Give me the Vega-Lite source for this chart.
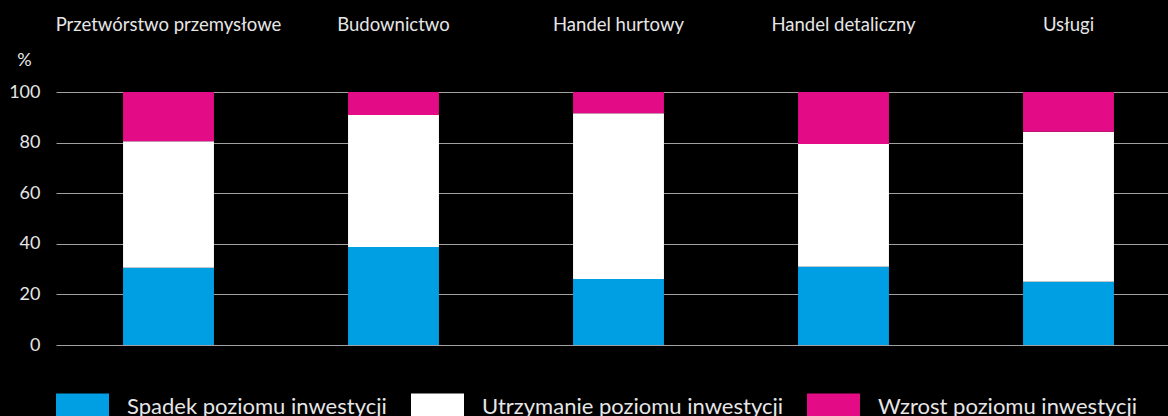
{
  "$schema": "https://vega.github.io/schema/vega-lite/v6.json",
  "background": "black",
  "autosize": "none",
  "padding": {"left": 56, "top": 92, "right": 0, "bottom": 71},
  "width": 1125,
  "height": 253,
  "config": {
    "view": {"stroke": null},
    "font": "Lato"
  },
  "data": {
    "values": [
      {"sektor": "Przetwórstwo przemysłowe", "kategoria": "Spadek poziomu inwestycji", "k": 1, "v": 30.5},
      {"sektor": "Przetwórstwo przemysłowe", "kategoria": "Utrzymanie poziomu inwestycji", "k": 2, "v": 50.0},
      {"sektor": "Przetwórstwo przemysłowe", "kategoria": "Wzrost poziomu inwestycji", "k": 3, "v": 19.5},
      {"sektor": "Budownictwo", "kategoria": "Spadek poziomu inwestycji", "k": 1, "v": 38.7},
      {"sektor": "Budownictwo", "kategoria": "Utrzymanie poziomu inwestycji", "k": 2, "v": 52.2},
      {"sektor": "Budownictwo", "kategoria": "Wzrost poziomu inwestycji", "k": 3, "v": 9.1},
      {"sektor": "Handel hurtowy", "kategoria": "Spadek poziomu inwestycji", "k": 1, "v": 26.1},
      {"sektor": "Handel hurtowy", "kategoria": "Utrzymanie poziomu inwestycji", "k": 2, "v": 65.5},
      {"sektor": "Handel hurtowy", "kategoria": "Wzrost poziomu inwestycji", "k": 3, "v": 8.4},
      {"sektor": "Handel detaliczny", "kategoria": "Spadek poziomu inwestycji", "k": 1, "v": 30.9},
      {"sektor": "Handel detaliczny", "kategoria": "Utrzymanie poziomu inwestycji", "k": 2, "v": 48.5},
      {"sektor": "Handel detaliczny", "kategoria": "Wzrost poziomu inwestycji", "k": 3, "v": 20.6},
      {"sektor": "Usługi", "kategoria": "Spadek poziomu inwestycji", "k": 1, "v": 25.0},
      {"sektor": "Usługi", "kategoria": "Utrzymanie poziomu inwestycji", "k": 2, "v": 59.3},
      {"sektor": "Usługi", "kategoria": "Wzrost poziomu inwestycji", "k": 3, "v": 15.7}
    ]
  },
  "mark": {"type": "bar"},
  "encoding": {
    "x": {
      "field": "sektor",
      "type": "nominal",
      "sort": null,
      "scale": {"paddingInner": 0.596, "paddingOuter": 0.298},
      "axis": {
        "orient": "top",
        "title": null,
        "domain": false,
        "ticks": false,
        "labelAngle": 0,
        "labelPadding": 58,
        "labelFontSize": 18.5,
        "labelLimit": 0,
        "labelColor": "#e6e6e6",
        "labelFont": "Lato"
      }
    },
    "y": {
      "field": "v",
      "type": "quantitative",
      "stack": "zero",
      "scale": {"domain": [0, 100], "nice": false},
      "axis": {
        "values": [0, 20, 40, 60, 80, 100],
        "domain": false,
        "ticks": false,
        "grid": true,
        "gridColor": "#a0a0a0",
        "gridWidth": 1,
        "labelPadding": 16,
        "labelFontSize": 18,
        "labelColor": "#e6e6e6",
        "labelFont": "Lato",
        "title": "%",
        "titleAngle": 0,
        "titleX": -32,
        "titleY": -32,
        "titleAlign": "center",
        "titleBaseline": "middle",
        "titleFontSize": 18,
        "titleFontWeight": "normal",
        "titleColor": "#e6e6e6",
        "titleFont": "Lato"
      }
    },
    "order": {"field": "k", "type": "quantitative"},
    "color": {
      "field": "kategoria",
      "type": "nominal",
      "scale": {
        "domain": ["Spadek poziomu inwestycji", "Utrzymanie poziomu inwestycji", "Wzrost poziomu inwestycji"],
        "range": ["#009fe3", "#ffffff", "#e30b86"]
      },
      "legend": {
        "orient": "none",
        "direction": "horizontal",
        "legendX": 0,
        "legendY": 288,
        "title": null,
        "padding": 0,
        "symbolType": "M-1,-0.5L1,-0.5L1,0.5L-1,0.5Z",
        "symbolSize": 2809,
        "symbolStrokeWidth": 0,
        "symbolOpacity": 1,
        "labelFontSize": 22,
        "labelColor": "#e6e6e6",
        "labelFont": "Lato",
        "labelOffset": 18,
        "columnPadding": 24,
        "labelLimit": 500
      }
    }
  }
}
